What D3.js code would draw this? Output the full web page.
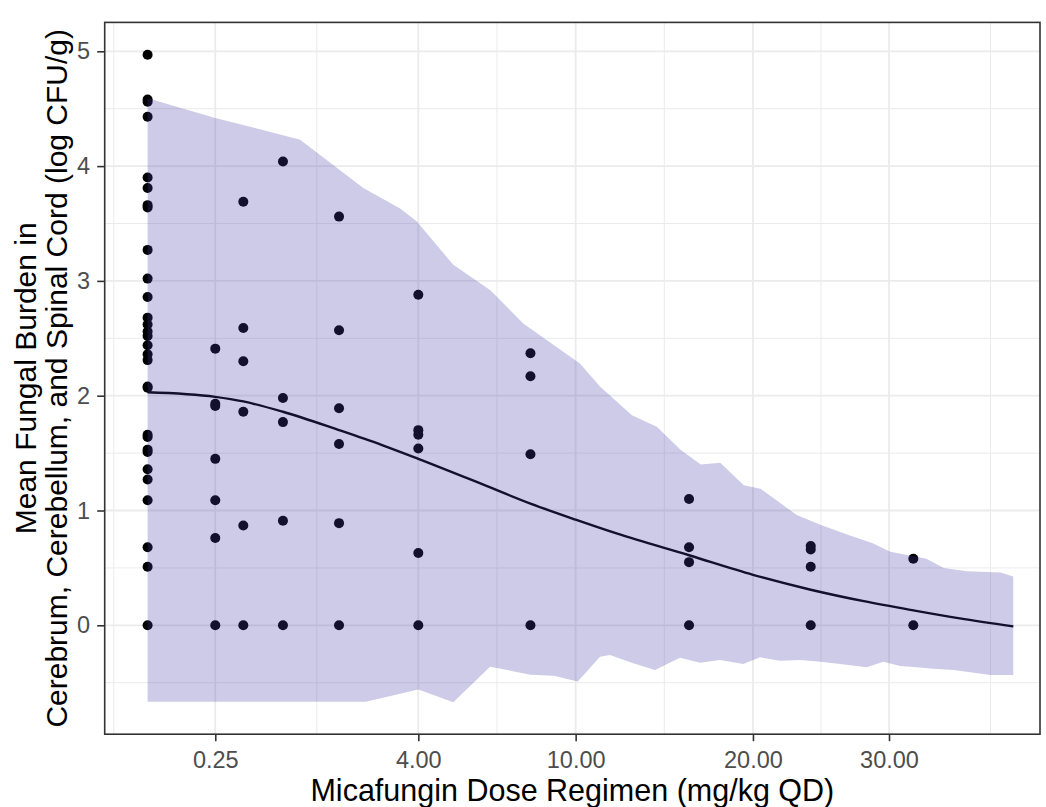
<!DOCTYPE html>
<html>
<head>
<meta charset="utf-8">
<script src="https://cdn.jsdelivr.net/npm/d3@7"></script>
<style>
  html, body { margin: 0; padding: 0; background: #ffffff; }
  svg { display: block; font-family: "Liberation Sans", Arial, sans-serif; }
</style>
</head>
<body>
<svg id="chart" width="1046" height="807"></svg>
<script>
// ---------------- data ----------------
const doseGroups = [0, 0.25, 0.5, 1, 2, 4, 8, 16, 24, 32];
const burden_0    = [4.97, 4.58, 4.56, 4.43, 3.90, 3.81, 3.66, 3.64, 3.27, 3.02, 2.86, 2.68, 2.62, 2.56, 2.52, 2.44, 2.36, 2.31, 2.08, 2.07, 1.66, 1.64, 1.53, 1.51, 1.36, 1.27, 1.09, 0.68, 0.51, 0];
const burden_0_25 = [2.41, 1.93, 1.91, 1.45, 1.09, 0.76, 0];
const burden_0_5  = [3.69, 2.59, 2.30, 1.86, 0.87, 0];
const burden_1    = [4.04, 1.98, 1.77, 0.91, 0];
const burden_2    = [3.56, 2.57, 1.89, 1.58, 0.89, 0];
const burden_4    = [2.88, 1.70, 1.66, 1.54, 0.63, 0];
const burden_8    = [2.37, 2.17, 1.49, 0];
const burden_16   = [1.10, 0.68, 0.55, 0];
const burden_24   = [0.69, 0.66, 0.51, 0];
const burden_32   = [0.58, 0];
const burdenByGroup = [burden_0, burden_0_25, burden_0_5, burden_1, burden_2, burden_4, burden_8, burden_16, burden_24, burden_32];

const curveDose  = [0, 0.25, 0.5, 1, 2, 3, 4, 6, 8, 10, 12, 16, 20, 24, 28, 32, 36, 40.9];
const curveValue = [2.03, 1.99, 1.95, 1.86, 1.70, 1.57, 1.45, 1.24, 1.06, 0.92, 0.80, 0.61, 0.44, 0.31, 0.21, 0.13, 0.06, -0.01];

const ribUpperDose  = [0, 0.25, 1.27, 2.54, 3.48, 3.95, 5.10, 6.40, 7.70, 10.2, 11.17, 12.8, 14.15, 15.5, 16.7, 17.9, 19.4, 20.5, 23.0, 24.7, 26.7, 28.7, 30.1, 33.1, 34.6, 36.6, 39.7, 40.9];
const ribUpperValue = [4.59, 4.42, 4.23, 3.81, 3.63, 3.52, 3.14, 2.92, 2.63, 2.28, 2.08, 1.83, 1.73, 1.53, 1.40, 1.415, 1.22, 1.19, 0.96, 0.875, 0.79, 0.715, 0.64, 0.58, 0.50, 0.47, 0.46, 0.425];
const ribLowerDose  = [0, 2.6, 4.0, 5.1, 6.4, 8.0, 9.0, 10.1, 11.17, 11.67, 12.87, 14.05, 15.47, 16.66, 17.88, 19.37, 20.47, 21.83, 23.23, 24.7, 26.17, 28.22, 29.54, 30.9, 32.29, 33.69, 35.43, 36.6, 38.73, 40.9];
const ribLowerValue = [-0.665, -0.665, -0.56, -0.67, -0.36, -0.43, -0.44, -0.49, -0.273, -0.259, -0.331, -0.389, -0.282, -0.326, -0.302, -0.337, -0.279, -0.308, -0.302, -0.317, -0.337, -0.366, -0.317, -0.355, -0.366, -0.378, -0.389, -0.404, -0.433, -0.433];

const xTickValues = [0.25, 4, 10, 20, 30];
const xTickLabels = ["0.25", "4.00", "10.00", "20.00", "30.00"];
const xMinorSqrt  = [-0.25, 1.25, 2.581, 3.817, 4.975, 6.227];
const yTickValues = [0, 1, 2, 3, 4, 5];
const yMinorValues = [-0.5, 0.5, 1.5, 2.5, 3.5, 4.5];

const xTitle = "Micafungin Dose Regimen (mg/kg QD)";
const yTitleLines = ["Mean Fungal Burden in", "Cerebrum, Cerebellum, and Spinal Cord (log CFU/g)"];

// ---------------- layout ----------------
const panel = { left: 104.7, right: 1040, top: 22.4, bottom: 734.2 };
const svg = d3.select("#chart");

// sqrt-transformed x scale (calibrated to the axis ticks)
const x = d3.scaleSqrt().domain([0, 30]).range([147.6, 889]);
const xs = d3.scaleLinear().domain([0, Math.sqrt(30)]).range([147.6, 889]); // sqrt-space helper for minor grid
const y = d3.scaleLinear().domain([0, 5]).range([625.3, 51.3]);

svg.append("rect").attr("width", 1046).attr("height", 807).attr("fill", "#ffffff");

svg.append("clipPath").attr("id", "clip")
  .append("rect")
  .attr("x", panel.left).attr("y", panel.top)
  .attr("width", panel.right - panel.left).attr("height", panel.bottom - panel.top);

const plot = svg.append("g").attr("clip-path", "url(#clip)");

// minor grid
plot.selectAll("line.xminor").data(xMinorSqrt).join("line")
  .attr("x1", d => xs(d)).attr("x2", d => xs(d))
  .attr("y1", panel.top).attr("y2", panel.bottom)
  .attr("stroke", "#EBEBEB").attr("stroke-width", 1);
plot.selectAll("line.yminor").data(yMinorValues).join("line")
  .attr("y1", d => y(d)).attr("y2", d => y(d))
  .attr("x1", panel.left).attr("x2", panel.right)
  .attr("stroke", "#EBEBEB").attr("stroke-width", 1);
// major grid
plot.selectAll("line.xmajor").data(xTickValues).join("line")
  .attr("x1", d => x(d)).attr("x2", d => x(d))
  .attr("y1", panel.top).attr("y2", panel.bottom)
  .attr("stroke", "#EBEBEB").attr("stroke-width", 1.8);
plot.selectAll("line.ymajor").data(yTickValues).join("line")
  .attr("y1", d => y(d)).attr("y2", d => y(d))
  .attr("x1", panel.left).attr("x2", panel.right)
  .attr("stroke", "#EBEBEB").attr("stroke-width", 1.8);

// points
const pts = [];
doseGroups.forEach((dose, i) => burdenByGroup[i].forEach(v => pts.push({ dose, v })));
plot.selectAll("circle.pt").data(pts).join("circle")
  .attr("cx", d => x(d.dose)).attr("cy", d => y(d.v))
  .attr("r", 5).attr("fill", "#000000");

// median line
const curve = curveDose.map((d, i) => [d, curveValue[i]]);
plot.append("path")
  .attr("d", d3.line().x(d => x(d[0])).y(d => y(d[1])).curve(d3.curveMonotoneX)(curve))
  .attr("fill", "none").attr("stroke", "#000000").attr("stroke-width", 2.4);

// ribbon (drawn on top, translucent)
const upper = ribUpperDose.map((d, i) => [d, ribUpperValue[i]]);
const lower = ribLowerDose.map((d, i) => [d, ribLowerValue[i]]);
const poly = upper.concat(lower.slice().reverse());
plot.append("path")
  .attr("d", d3.line().x(d => x(d[0])).y(d => y(d[1]))(poly) + "Z")
  .attr("fill", "rgb(72,61,170)").attr("fill-opacity", 0.265).attr("stroke", "none");

// panel border
svg.append("rect")
  .attr("x", panel.left).attr("y", panel.top)
  .attr("width", panel.right - panel.left).attr("height", panel.bottom - panel.top)
  .attr("fill", "none").attr("stroke", "#333333").attr("stroke-width", 1.6);

// axes
const xAxis = d3.axisBottom(x).tickValues(xTickValues)
  .tickFormat((d, i) => xTickLabels[i]).tickSize(7).tickSizeOuter(0).tickPadding(10);
const gx = svg.append("g").attr("transform", `translate(0,${panel.bottom})`).call(xAxis);
gx.select(".domain").remove();
gx.selectAll(".tick line").attr("stroke", "#333333").attr("stroke-width", 1.6);
gx.selectAll(".tick text").attr("fill", "#4D4D4D").attr("font-size", 23.5)
  .attr("font-family", "'Liberation Sans', Arial, sans-serif");

const yAxis = d3.axisLeft(y).tickValues(yTickValues).tickFormat(d3.format("d"))
  .tickSize(7.5).tickSizeOuter(0).tickPadding(7);
const gy = svg.append("g").attr("transform", `translate(${panel.left},0)`).call(yAxis);
gy.select(".domain").remove();
gy.selectAll(".tick line").attr("stroke", "#333333").attr("stroke-width", 1.6);
gy.selectAll(".tick text").attr("fill", "#4D4D4D").attr("font-size", 23.5)
  .attr("font-family", "'Liberation Sans', Arial, sans-serif");

// titles
svg.append("text")
  .attr("x", (panel.left + panel.right) / 2).attr("y", 800.5)
  .attr("text-anchor", "middle").attr("font-size", 30.5).attr("fill", "#000000")
  .text(xTitle);

const yMid = (panel.top + panel.bottom) / 2;
yTitleLines.forEach((t, i) => {
  svg.append("text")
    .attr("transform", `translate(${36 + i * 31},${yMid}) rotate(-90)`)
    .attr("text-anchor", "middle").attr("font-size", 30).attr("fill", "#000000")
    .text(t);
});
</script>
</body>
</html>
